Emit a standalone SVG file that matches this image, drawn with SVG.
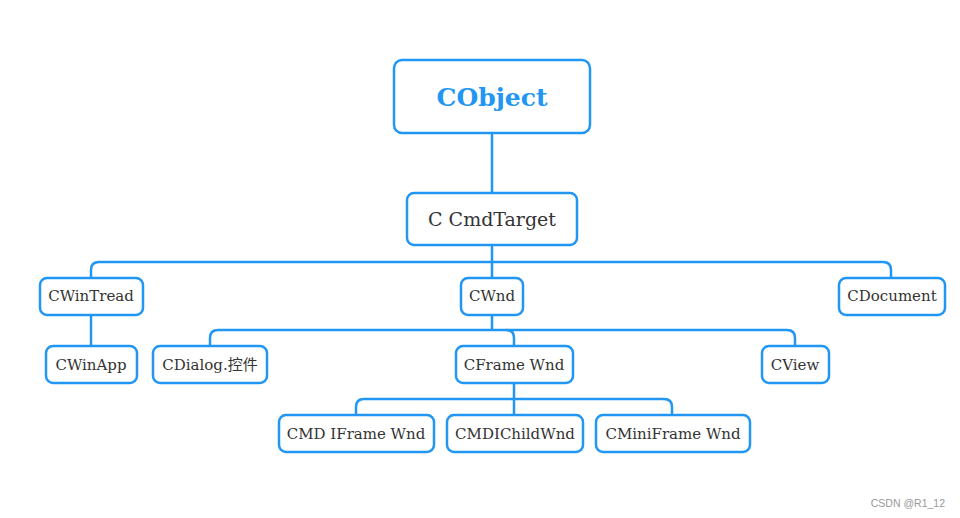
<svg xmlns="http://www.w3.org/2000/svg" width="960" height="518" viewBox="0 0 960 518">
<style>
.box{fill:#fff;stroke:#2196F3;stroke-width:2.5}
.ln{fill:none;stroke:#2196F3;stroke-width:2.5}
.t{font-family:"DejaVu Serif","Liberation Serif","Noto Sans CJK SC",serif;fill:#333;text-anchor:middle}
.s{font-size:15px}
</style>
<rect width="960" height="518" fill="#fff"/>
<g id="connectors">
<path class="ln" d="M492 133V193"/>
<path class="ln" d="M492 245V262"/>
<path class="ln" d="M91 278V270Q91 262 99 262H883Q891 262 891 270V278"/>
<path class="ln" d="M492 262V278"/>
<path class="ln" d="M91 315V346"/>
<path class="ln" d="M492 315V330"/>
<path class="ln" d="M210 346V338Q210 330 218 330H787Q795 330 795 338V346"/>
<path class="ln" d="M506 330Q514 330 514 338V346"/>
<path class="ln" d="M514 383V414"/>
<path class="ln" d="M356 415V407Q356 399 364 399H664Q672 399 672 407V415"/>
</g>
<g id="CObject"><rect class="box" x="394" y="60" width="196" height="73" rx="8"/><text class="t" x="492" y="106" font-size="25" font-weight="bold" style="fill:#2196F3">CObject</text></g>
<g id="CCmdTarget"><rect class="box" x="407" y="193" width="170" height="52" rx="7"/><text class="t" x="492" y="226" font-size="19">C CmdTarget</text></g>
<g id="CWinTread"><rect class="box" x="40" y="278" width="103" height="37" rx="7"/><text class="t s" x="91" y="301">CWinTread</text></g>
<g id="CWnd"><rect class="box" x="461" y="278" width="62" height="37" rx="7"/><text class="t s" x="492" y="301">CWnd</text></g>
<g id="CDocument"><rect class="box" x="839" y="278" width="106" height="37" rx="7"/><text class="t s" x="892" y="301">CDocument</text></g>
<g id="CWinApp"><rect class="box" x="46" y="346" width="91" height="37" rx="7"/><text class="t s" x="91" y="370">CWinApp</text></g>
<g id="CDialog"><rect class="box" x="153" y="346" width="114" height="37" rx="7"/><text class="t s" x="210" y="370">CDialog.控件</text></g>
<g id="CFrameWnd"><rect class="box" x="456" y="346" width="117" height="37" rx="7"/><text class="t s" x="514" y="370">CFrame Wnd</text></g>
<g id="CView"><rect class="box" x="762" y="346" width="67" height="37" rx="7"/><text class="t s" x="795" y="370">CView</text></g>
<g id="CMDIFrameWnd"><rect class="box" x="279" y="415" width="155" height="37" rx="7"/><text class="t s" x="356" y="439">CMD IFrame Wnd</text></g>
<g id="CMDIChildWnd"><rect class="box" x="447" y="415" width="136" height="37" rx="7"/><text class="t s" x="515" y="439">CMDIChildWnd</text></g>
<g id="CMiniFrameWnd"><rect class="box" x="596" y="415" width="154" height="37" rx="7"/><text class="t s" x="673" y="439">CMiniFrame Wnd</text></g>
<text x="945" y="507" font-family="Liberation Sans, sans-serif" font-size="10.5" fill="#999" text-anchor="end">CSDN @R1_12</text>
</svg>
